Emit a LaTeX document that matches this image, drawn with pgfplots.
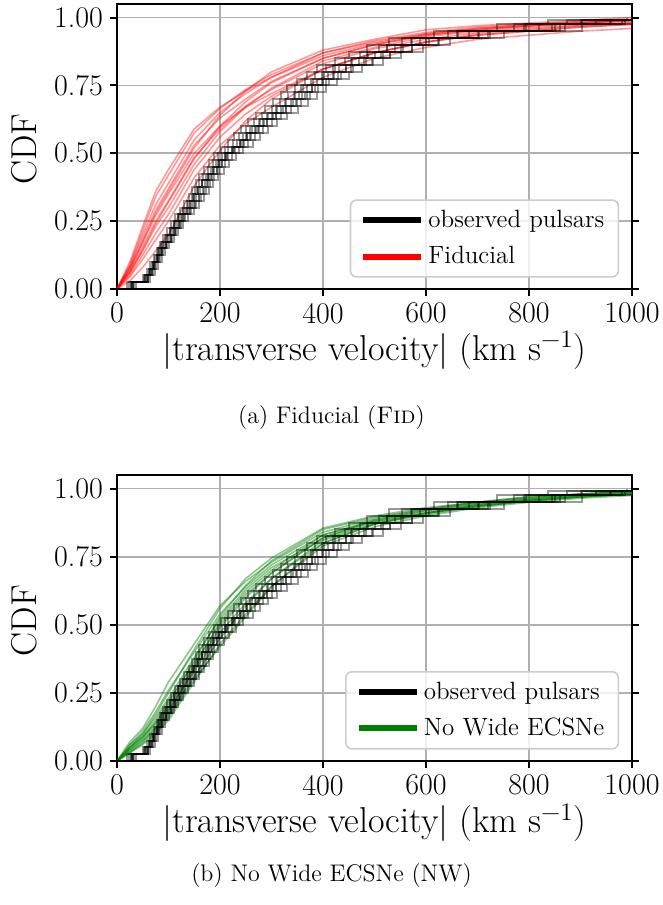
\documentclass[border=0pt]{standalone}
\usepackage{pgfplots}
\pgfplotsset{compat=1.18}
\usepackage{pgfplotstable}

\definecolor{gridgray}{HTML}{B0B0B0}
\definecolor{legframe}{HTML}{CCCCCC}
\definecolor{mplgreen}{HTML}{008000}

% observed pulsars: resampled empirical CDFs (shared y, one x column per sample)
\pgfplotstableread{
y     c1  c2   c3   c4   c5   c6   c7   c8   c9   c10
0.000 0   0    0    0    0    0    0    0    0    0
0.025 27  28   29   30   31   32   33   24   36   20
0.050 52  55   56   58   60   61   64   50   60   54
0.075 59  62   64   66   68   70   73   62   67   64
0.100 65  68   70   72   74   76   79   70   72   71
0.125 71  74   77   79   81   84   87   78   77   80
0.150 77  80   82   85   88   90   94   86   82   88
0.175 83  86   89   92   95   98   101  95   88   96
0.200 90  94   97   100  103  106  110  104  95   104
0.225 97  102  105  108  111  114  119  113  102  112
0.250 105 110  113  117  121  124  129  122  110  120
0.275 113 118  121  125  129  133  138  131  118  127
0.300 122 128  132  136  140  144  150  141  128  135
0.325 131 136  141  145  149  154  160  151  137  142
0.350 139 145  149  154  159  163  169  160  147  150
0.375 146 152  157  162  167  172  178  168  156  158
0.400 153 160  165  170  175  180  187  176  166  166
0.425 160 167  173  178  183  189  196  185  176  176
0.450 169 177  182  188  194  199  207  194  187  186
0.475 178 186  192  198  204  210  218  203  199  197
0.500 189 197  204  210  216  223  231  213  212  209
0.525 201 210  216  223  230  236  245  225  227  223
0.550 216 226  233  240  247  254  264  238  244  238
0.575 227 237  244  252  260  267  277  250  258  253
0.600 240 251  259  267  275  283  294  263  274  269
0.625 255 266  275  283  291  300  311  278  291  286
0.650 270 282  291  300  309  318  330  294  309  303
0.675 287 300  309  319  329  338  351  311  329  322
0.700 303 317  327  337  347  357  371  328  349  341
0.725 319 333  343  354  365  375  389  345  368  360
0.750 331 346  357  368  379  390  405  362  385  378
0.775 349 365  376  388  400  411  427  381  406  398
0.800 369 385  398  410  422  435  451  402  430  420
0.825 389 406  419  432  445  458  475  424  455  444
0.850 423 442  456  470  484  498  517  455  495  480
0.875 451 471  486  501  516  531  551  488  530  512
0.900 486 508  524  540  556  572  594  525  572  552
0.925 529 553  570  588  606  623  647  572  625  600
0.950 615 642  663  683  703  724  751  660  720  700
0.975 738 771  795  820  845  869  902  790  860  850
0.990 837 874  902  930  958  986  1100 900  980  960
1.000 990 1100 1100 1100 1100 1100 1100 1000 1100 1100
}\obs

% Fiducial model CDFs
\pgfplotstableread{
x    r1    r2    r3    r4    r5    r6    r7    r8    r9    r10   r11   r12
0    0     0     0     0     0     0     0     0     0     0     0     0
25   0.03  0.045 0.05  0.06  0.065 0.07  0.08  0.085 0.09  0.10  0.075 0.06
50   0.08  0.11  0.125 0.14  0.155 0.17  0.185 0.20  0.215 0.23  0.175 0.145
75   0.14  0.18  0.205 0.23  0.25  0.27  0.29  0.31  0.34  0.36  0.28  0.24
100  0.20  0.25  0.275 0.30  0.325 0.35  0.37  0.39  0.42  0.44  0.36  0.32
150  0.38  0.41  0.44  0.46  0.485 0.50  0.53  0.55  0.575 0.59  0.52  0.48
200  0.51  0.53  0.56  0.58  0.59  0.60  0.63  0.65  0.665 0.67  0.64  0.60
250  0.62  0.61  0.645 0.67  0.675 0.67  0.70  0.72  0.735 0.73  0.73  0.69
300  0.70  0.67  0.71  0.74  0.735 0.72  0.765 0.78  0.79  0.78  0.80  0.76
400  0.81  0.78  0.81  0.84  0.83  0.81  0.85  0.87  0.87  0.86  0.88  0.85
500  0.87  0.85  0.87  0.89  0.885 0.87  0.90  0.915 0.91  0.905 0.92  0.90
600  0.91  0.89  0.91  0.93  0.92  0.91  0.935 0.945 0.94  0.94  0.955 0.935
700  0.935 0.92  0.94  0.95  0.945 0.935 0.955 0.965 0.96  0.96  0.97  0.955
800  0.95  0.935 0.955 0.965 0.96  0.95  0.97  0.975 0.97  0.975 0.98  0.97
900  0.965 0.95  0.97  0.975 0.97  0.965 0.98  0.985 0.98  0.985 0.99  0.98
1000 0.975 0.96  0.98  0.985 0.98  0.975 0.99  0.99  0.99  0.99  1.0   0.99
}\fid

% No Wide ECSNe model CDFs
\pgfplotstableread{
x    g1    g2    g3    g4    g5    g6    g7    g8    g9    g10   g11   g12
0    0     0     0     0     0     0     0     0     0     0     0     0
25   0.03  0.04  0.05  0.06  0.07  0.05  0.04  0.05  0.06  0.03  0.045 0.035
50   0.06  0.08  0.09  0.11  0.12  0.10  0.075 0.09  0.10  0.07  0.085 0.065
75   0.10  0.13  0.15  0.18  0.20  0.17  0.12  0.14  0.16  0.12  0.14  0.11
100  0.15  0.19  0.22  0.26  0.29  0.25  0.17  0.20  0.23  0.18  0.21  0.16
150  0.29  0.33  0.36  0.40  0.43  0.41  0.31  0.35  0.38  0.34  0.37  0.30
200  0.43  0.47  0.50  0.54  0.57  0.56  0.45  0.51  0.52  0.49  0.53  0.42
250  0.54  0.58  0.61  0.64  0.66  0.67  0.57  0.62  0.63  0.60  0.645 0.53
300  0.64  0.67  0.69  0.72  0.73  0.745 0.67  0.70  0.71  0.69  0.735 0.64
400  0.79  0.80  0.82  0.83  0.84  0.855 0.81  0.83  0.815 0.82  0.85  0.80
500  0.86  0.87  0.88  0.885 0.89  0.90  0.87  0.88  0.875 0.885 0.895 0.87
600  0.90  0.905 0.91  0.92  0.925 0.93  0.91  0.915 0.91  0.92  0.925 0.91
700  0.93  0.935 0.94  0.945 0.95  0.95  0.94  0.94  0.935 0.945 0.95  0.935
800  0.95  0.955 0.96  0.96  0.965 0.97  0.955 0.96  0.955 0.965 0.97  0.955
900  0.965 0.97  0.975 0.975 0.98  0.98  0.97  0.975 0.97  0.98  0.98  0.97
1000 0.975 0.98  0.985 0.985 0.99  0.99  0.98  0.985 0.98  0.99  0.99  0.98
}\nw

\pgfplotsset{
  cdfpanel/.style={
    scale only axis, width=257.5pt,
    xmin=0, xmax=1000, ymin=0, ymax=1.05,
    xtick={0,200,400,600,800,1000},
    ytick={0,0.25,0.5,0.75,1},
    grid=major,
    major grid style={gridgray, line width=0.8pt},
    axis line style={line width=1pt},
    tick style={black, line width=1pt},
    tick align=outside, major tick length=3.5pt,
    xtick pos=left, ytick pos=both, yticklabel pos=left,
    /pgf/number format/assume math mode=true,
    xticklabel style={/pgf/number format/1000 sep={}},
    yticklabel style={/pgf/number format/fixed,
      /pgf/number format/fixed zerofill,
      /pgf/number format/precision=2},
    tick label style={font=\fontsize{15}{17}\selectfont},
    label style={font=\fontsize{18}{21}\selectfont},
    xlabel={|transverse velocity| (km s\textsuperscript{−1})},
    ylabel={CDF},
    xlabel style={at={(axis description cs:0.5,-0.123)}, anchor=north},
    ylabel style={at={(axis description cs:-0.18,0.49)}, anchor=center},
    legend cell align=left,
    legend image code/.code={\draw[#1] (0pt,0pt) -- (29pt,0pt);},
    legend style={at={(0.975,0.04)}, anchor=south east,
      draw=legframe, line width=0.8pt, rounded corners=3pt,
      fill=white, fill opacity=0.8, text opacity=1,
      font=\fontsize{12.5}{15}\selectfont, row sep=4pt,
      inner xsep=5pt, inner ysep=3pt},
  },
  obsline/.style={const plot, black, opacity=0.4, line width=1pt, forget plot},
}

\begin{document}
\begin{tikzpicture}
\useasboundingbox (0,0) rectangle (331.5pt,-452.5pt);

\begin{axis}[cdfpanel, height=142.5pt, at={(58.5pt,-144.5pt)}, anchor=south west,
  legend entries={observed pulsars, Fiducial}]
  \addlegendimage{black, line width=3pt}
  \addlegendimage{red, line width=3pt}
  \pgfplotsinvokeforeach{1,...,12}{
    \addplot[red, opacity=0.4, line width=0.8pt, forget plot] table[x=x, y=r#1] {\fid};
  }
  \pgfplotsinvokeforeach{1,...,10}{
    \addplot[obsline] table[x=c#1, y=y] {\obs};
  }
\end{axis}
\node[font=\fontsize{12}{14}\selectfont] at (165.75pt,-209pt) {(a) Fiducial (\textsc{Fid})};

\begin{axis}[cdfpanel, height=143pt, at={(58.5pt,-380.5pt)}, anchor=south west,
  legend entries={observed pulsars, No Wide ECSNe}]
  \addlegendimage{black, line width=3pt}
  \addlegendimage{mplgreen, line width=3pt}
  \pgfplotsinvokeforeach{1,...,12}{
    \addplot[mplgreen, opacity=0.45, line width=0.8pt, forget plot] table[x=x, y=g#1] {\nw};
  }
  \pgfplotsinvokeforeach{1,...,10}{
    \addplot[obsline] table[x=c#1, y=y] {\obs};
  }
\end{axis}
\node[font=\fontsize{12}{14}\selectfont] at (165.75pt,-437.5pt) {(b) No Wide ECSNe (NW)};
\end{tikzpicture}
\end{document}
